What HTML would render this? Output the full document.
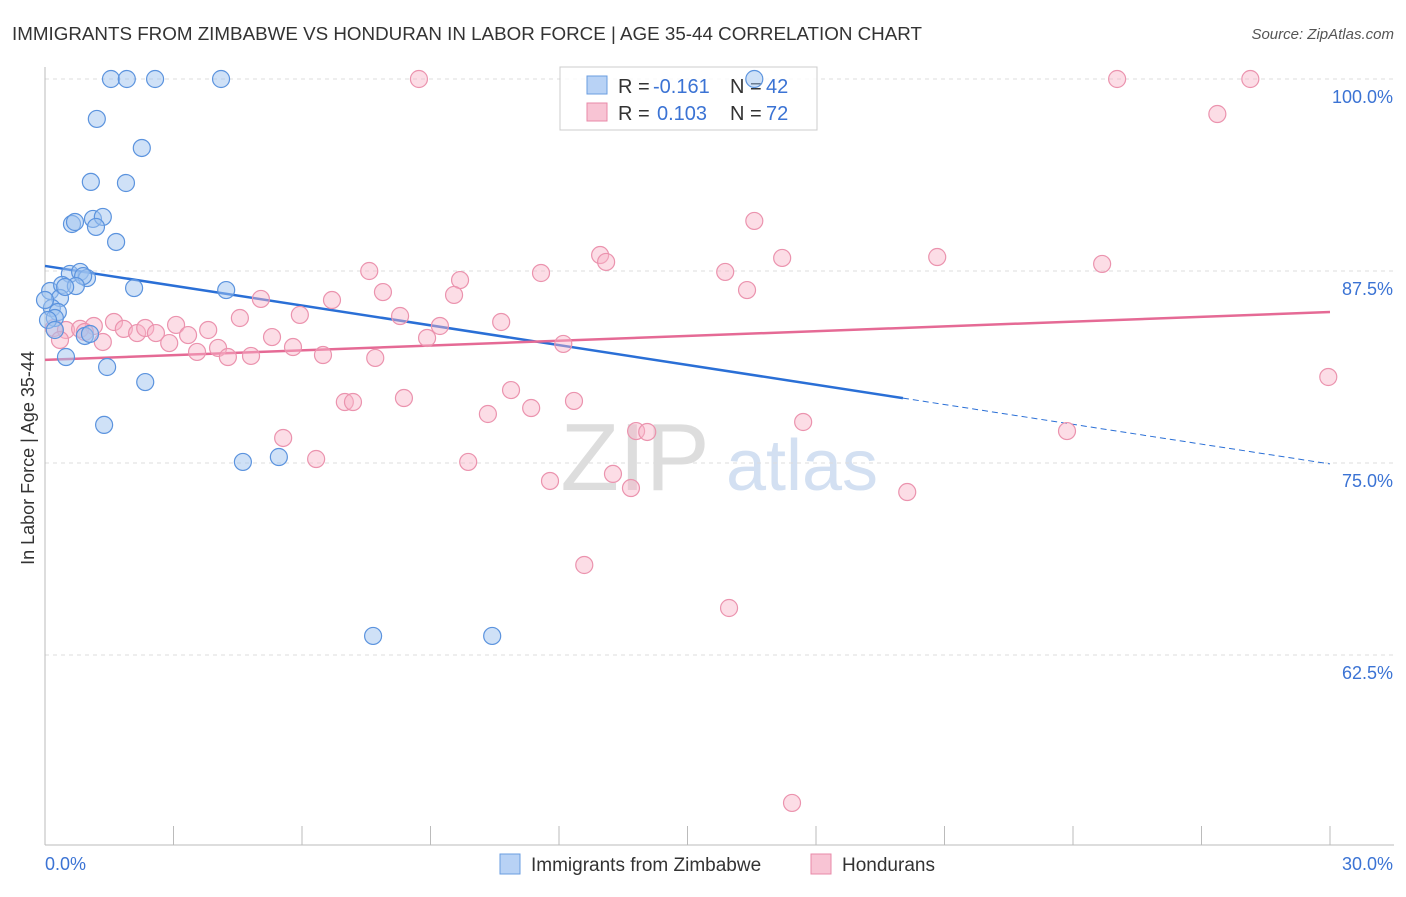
<!DOCTYPE html>
<html><head><meta charset="utf-8"><style>
body{margin:0;background:#fff;font-family:"Liberation Sans",sans-serif;}
svg text{font-family:"Liberation Sans",sans-serif;}
</style></head><body>
<svg id="chart" width="1406" height="892" xmlns="http://www.w3.org/2000/svg">
<text x="12" y="40" font-size="18.8" fill="#333">IMMIGRANTS FROM ZIMBABWE VS HONDURAN IN LABOR FORCE | AGE 35-44 CORRELATION CHART</text>
<text x="1394" y="39" font-size="15" fill="#555" text-anchor="end" font-style="italic">Source: ZipAtlas.com</text>
<text x="34" y="458" font-size="18" fill="#333" text-anchor="middle" transform="rotate(-90 34 458)">In Labor Force | Age 35-44</text>
<text x="635" y="490" font-size="96" fill="#ddd" font-family="Liberation Serif" text-anchor="middle">ZIP</text>
<text x="802" y="490" font-size="72" fill="#d3e0f2" text-anchor="middle">atlas</text>
<g id="grid"></g><g id="axes"></g>
<g>
<rect x="560" y="67" width="257" height="63" fill="#fff" fill-opacity="0.85" stroke="#ccc"/>
<rect x="587" y="76" width="20" height="18" fill="#b8d2f5" stroke="#6a9de0"/>
<rect x="587" y="103" width="20" height="18" fill="#f8c4d4" stroke="#e88aa8"/>
<text x="618" y="93" font-size="20" fill="#333">R =</text>
<text x="653" y="93" font-size="20" fill="#3b73d4">-0.161</text>
<text x="730" y="93" font-size="20" fill="#333">N =</text>
<text x="766" y="93" font-size="20" fill="#3b73d4">42</text>
<text x="618" y="120" font-size="20" fill="#333">R =</text>
<text x="657" y="120" font-size="20" fill="#3b73d4">0.103</text>
<text x="730" y="120" font-size="20" fill="#333">N =</text>
<text x="766" y="120" font-size="20" fill="#3b73d4">72</text>
</g>
<g id="trend"></g><g id="pts"></g>
<g>
<rect x="500" y="854" width="20" height="20" fill="#b8d2f5" stroke="#6a9de0"/>
<text x="531" y="871" font-size="19" fill="#333">Immigrants from Zimbabwe</text>
<rect x="811" y="854" width="20" height="20" fill="#f8c4d4" stroke="#e88aa8"/>
<text x="842" y="871" font-size="19" fill="#333">Hondurans</text>
</g>
</svg>
<script>
const blueX=[1.54,1.91,2.57,4.11,16.56,1.21,2.26,1.07,1.89,0.63,0.70,1.12,1.35,1.19,1.66,0.58,0.82,0.98,0.89,0.12,2.08,4.23,0.40,0.72,0.35,0.16,0.30,0.23,0.93,0.49,1.45,2.34,1.38,4.62,5.46,7.66,10.44,0.07,0.23,1.05,0.47,0];
const blueY=[100,100,100,100,100,97.40,95.51,93.30,93.23,90.56,90.69,90.89,91.02,90.37,89.39,87.31,87.44,87.04,87.17,86.20,86.39,86.26,86.59,86.52,85.74,85.09,84.83,84.44,83.27,81.90,81.25,80.27,77.48,75.07,75.39,63.74,63.74,84.31,83.66,83.40,86.46,85.61];
const pinkX=[8.73,25.03,28.14,27.37,16.56,12.96,13.10,17.21,20.83,24.68,15.88,7.57,11.58,9.69,7.89,9.55,16.39,5.04,6.70,8.29,5.95,4.55,10.65,9.22,1.61,1.14,0.21,0.49,0.82,1.84,2.15,2.34,2.59,3.06,3.34,3.81,5.30,8.92,12.10,2.90,1.35,3.55,4.04,4.27,4.81,5.79,6.49,7.71,29.96,10.88,8.38,12.35,7.00,7.19,11.35,10.34,17.70,23.86,13.80,14.06,5.56,6.33,9.88,13.26,11.79,13.68,20.13,12.59,15.97,17.44,0.35,0.93];
const pinkY=[100,100,100,97.72,90.76,88.54,88.09,88.35,88.41,87.96,87.44,87.50,87.37,86.91,86.13,85.94,86.26,85.68,85.61,84.57,84.64,84.44,84.18,83.92,84.18,83.92,83.79,83.66,83.73,83.73,83.46,83.79,83.46,83.99,83.33,83.66,83.20,83.14,82.75,82.81,82.88,82.23,82.49,81.90,81.97,82.55,82.03,81.84,80.60,79.75,79.23,79.04,78.97,78.97,78.58,78.19,77.67,77.08,77.08,77.02,76.63,75.26,75.07,74.29,73.83,73.37,73.11,68.36,65.56,52.87,83.01,83.53];
const yTicks=[100,87.5,75,62.5];
const yTickLabels=["100.0%","87.5%","75.0%","62.5%"];
const blueTrend=[87.83,74.94], blueSolidEnd=20.03;
const pinkTrend=[81.71,84.83];
const NS='http://www.w3.org/2000/svg';
const sx=v=>45+v/30*1285, sy=v=>79+(100-v)/12.5*192;
function mk(t,a,p){const e=document.createElementNS(NS,t);for(const k in a)e.setAttribute(k,a[k]);document.getElementById(p).appendChild(e);return e;}
yTicks.forEach((t,i)=>{
 const g=mk('line',{x1:45,x2:1394,y1:sy(t),y2:sy(t),stroke:'#ddd','stroke-dasharray':'4,4'},'grid');
 
 
 const l=mk('text',{x:1393,y:sy(t)+24,'font-size':18,fill:'#3b73d4','text-anchor':'end'},'axes');
 l.textContent=yTickLabels[i];
 
 
});
mk('line',{x1:45,x2:45,y1:67,y2:845,stroke:'#bbb'},'axes');
mk('line',{x1:45,x2:1394,y1:845,y2:845,stroke:'#bbb'},'axes');
for(let i=1;i<=10;i++){const tk=mk('line',{x1:sx(i*3),x2:sx(i*3),y1:826,y2:845,stroke:'#bbb'},'axes');
 
 }
const x0=mk('text',{x:45,y:870,'font-size':18,fill:'#3b73d4'},'axes');x0.textContent='0.0%';


const x1=mk('text',{x:1393,y:870,'font-size':18,fill:'#3b73d4','text-anchor':'end'},'axes');x1.textContent='30.0%';


function pts(X,Y,fill,stroke,name){X.forEach((x,i)=>{const c=mk('circle',{cx:sx(x),cy:sy(Y[i]),r:8.5,fill:fill,stroke:stroke,'stroke-width':1.2},'pts');
 
 });}
pts(pinkX,pinkY,'rgba(248,180,200,0.45)','#eb93ae','honduran-point');
pts(blueX,blueY,'rgba(160,196,240,0.5)','#5b93de','zimbabwe-point');
const lerp=(a,x)=>a[0]+(a[1]-a[0])*x/30;
const b1=mk('line',{x1:sx(0),y1:sy(blueTrend[0]),x2:sx(blueSolidEnd),y2:sy(lerp(blueTrend,blueSolidEnd)),stroke:'#2a6fd6','stroke-width':2.5},'trend');


const b2=mk('line',{x1:sx(blueSolidEnd),y1:sy(lerp(blueTrend,blueSolidEnd)),x2:sx(30),y2:sy(blueTrend[1]),stroke:'#2a6fd6','stroke-width':1,'stroke-dasharray':'6,4'},'trend');


const p1=mk('line',{x1:sx(0),y1:sy(pinkTrend[0]),x2:sx(30),y2:sy(pinkTrend[1]),stroke:'#e56a95','stroke-width':2.5},'trend');


</script>
</body></html>
